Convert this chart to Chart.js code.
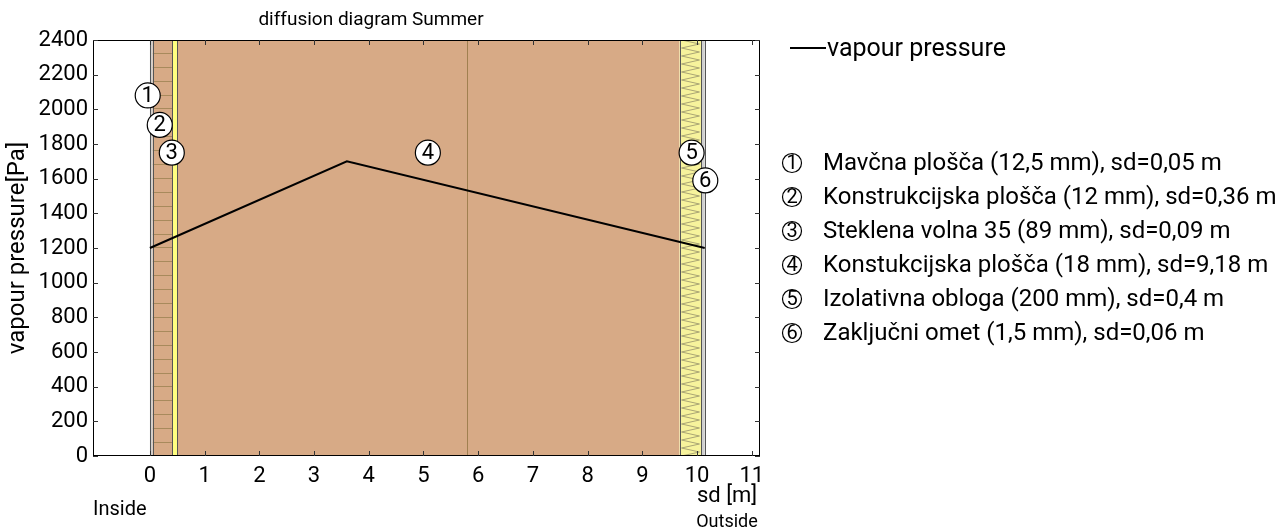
<!DOCTYPE html>
<html>
<head>
<meta charset="utf-8">
<script src="https://cdn.jsdelivr.net/npm/chart.js@4/dist/chart.umd.min.js"></script>
<style>
  html, body { margin: 0; padding: 0; background: #fff; }
  #wrap { width: 1282px; height: 531px; }
</style>
</head>
<body>
<div id="wrap"><canvas id="myChart" width="1282" height="531"></canvas></div>
<script>
// layers of the wall, inside -> outside
const layerNames = [
    'Mavčna plošča (12,5 mm), sd=0,05 m',
    'Konstrukcijska plošča (12 mm), sd=0,36 m',
    'Steklena volna 35 (89 mm), sd=0,09 m',
    'Konstukcijska plošča (18 mm), sd=9,18 m',
    'Izolativna obloga (200 mm), sd=0,4 m',
    'Zaključni omet (1,5 mm), sd=0,06 m'
];
const layerSd = [0.05, 0.36, 0.09, 9.18, 0.4, 0.06];

// vapour pressure curve
const vpX = [0, 3.6, 10.14];
const vpY = [1200, 1700, 1200];

// circled layer numbers inside the plot
const markX = [-0.04, 0.18, 0.4, 5.08, 9.9, 10.15];
const markY = [2080, 1910, 1750, 1750, 1750, 1590];

const xTicks = [0, 1, 2, 3, 4, 5, 6, 7, 8, 9, 10, 11];
const extraLineX = 5.79;

const FONT = 'Roboto, "Noto Sans", sans-serif';
const brown = '#d7aa86';
const yellow = '#ffff80';
const paleYellow = '#f7f39c';
const grey = '#cfcfcf';

function layerBounds() {
    let acc = 0;
    return layerSd.map(sd => { const b = [acc, acc + sd]; acc += sd; return b; });
}

const wallPlugin = {
    id: 'wall',
    beforeDatasetsDraw(chart) {
        const { ctx, chartArea: a, scales: { x } } = chart;
        const b = layerBounds();
        const fills = [grey, brown, yellow, brown, paleYellow, grey];
        ctx.save();
        b.forEach((r, i) => {
            const x0 = x.getPixelForValue(r[0]), x1 = x.getPixelForValue(r[1]);
            ctx.fillStyle = fills[i];
            ctx.fillRect(x0, a.top, x1 - x0, a.bottom - a.top);
            ctx.save();
            ctx.beginPath();
            ctx.rect(x0, a.top, x1 - x0, a.bottom - a.top);
            ctx.clip();
            if (i === 1) {
                ctx.strokeStyle = '#a88a5c';
                ctx.lineWidth = 1;
                for (let y = a.bottom - 14; y > a.top; y -= 13.9) {
                    ctx.beginPath();
                    ctx.moveTo(x0, Math.round(y) + 0.5);
                    ctx.lineTo(x1, Math.round(y) + 0.5);
                    ctx.stroke();
                }
            }
            if (i === 4) {
                ctx.strokeStyle = '#aaa575';
                ctx.lineWidth = 1;
                ctx.beginPath();
                let left = true;
                for (let y = a.top; y <= a.bottom + 5; y += 4) {
                    const px = left ? x0 + 2 : x1 - 2;
                    if (y === a.top) ctx.moveTo(px, y); else ctx.lineTo(px, y);
                    left = !left;
                }
                ctx.stroke();
            }
            ctx.restore();
        });
        // boundaries
        ctx.strokeStyle = '#555';
        ctx.lineWidth = 1;
        const edges = [b[0][0]].concat(b.map(r => r[1]));
        edges.forEach(v => {
            const px = Math.round(x.getPixelForValue(v)) + 0.5;
            ctx.beginPath();
            ctx.moveTo(px, a.top);
            ctx.lineTo(px, a.bottom);
            ctx.stroke();
        });
        // thin line inside layer 4
        ctx.strokeStyle = '#a08050';
        const lx = Math.round(x.getPixelForValue(extraLineX)) + 0.5;
        ctx.beginPath();
        ctx.moveTo(lx, a.top);
        ctx.lineTo(lx, a.bottom);
        ctx.stroke();
        ctx.restore();
    },
    afterDatasetsDraw(chart) {
        const { ctx, scales: { x, y } } = chart;
        ctx.save();
        ctx.fillStyle = '#000';
        ctx.font = '22px ' + FONT;
        ctx.textAlign = 'center';
        ctx.textBaseline = 'middle';
        markX.forEach((v, i) => {
            ctx.fillText(String(i + 1), x.getPixelForValue(v), y.getPixelForValue(markY[i]) + 1);
        });
        ctx.restore();
    },
    afterDraw(chart) {
        const { ctx, chartArea: a, scales: { x, y } } = chart;
        ctx.save();
        // frame
        ctx.strokeStyle = '#000';
        ctx.lineWidth = 1;
        ctx.strokeRect(a.left + 0.5, a.top + 0.5, a.right - a.left - 1, a.bottom - a.top - 1);
        // inward ticks on all sides
        ctx.strokeStyle = '#333';
        ctx.beginPath();
        x.ticks.forEach(t => {
            const px = Math.round(x.getPixelForValue(t.value)) + 0.5;
            ctx.moveTo(px, a.bottom); ctx.lineTo(px, a.bottom - 5);
            ctx.moveTo(px, a.top); ctx.lineTo(px, a.top + 5);
        });
        y.ticks.forEach(t => {
            const py = Math.round(y.getPixelForValue(t.value)) + 0.5;
            ctx.moveTo(a.left, py); ctx.lineTo(a.left + 5, py);
            ctx.moveTo(a.right, py); ctx.lineTo(a.right - 5, py);
        });
        ctx.stroke();

        ctx.fillStyle = '#000';
        ctx.textBaseline = 'middle';
        // title
        ctx.font = '19px ' + FONT;
        ctx.textAlign = 'center';
        ctx.fillText('diffusion diagram Summer', 371, 20);
        // y axis title
        ctx.save();
        ctx.translate(18, 248);
        ctx.rotate(-Math.PI / 2);
        ctx.font = '24px ' + FONT;
        ctx.fillText('vapour pressure[Pa]', 0, 0);
        ctx.restore();
        // x axis texts
        ctx.font = '22px ' + FONT;
        ctx.fillText('sd [m]', 727, 496);
        ctx.font = '18px ' + FONT;
        ctx.fillText('Outside', 727, 522);
        ctx.textAlign = 'left';
        ctx.font = '20px ' + FONT;
        ctx.fillText('Inside', 93, 510);

        // legend
        ctx.lineWidth = 2;
        ctx.strokeStyle = '#000';
        ctx.beginPath();
        ctx.moveTo(790, 48); ctx.lineTo(826, 48);
        ctx.stroke();
        ctx.font = '25px ' + FONT;
        ctx.fillText('vapour pressure', 827, 50);

        // layer list
        layerNames.forEach((name, i) => {
            const cy = 163 + i * 34;
            ctx.lineWidth = 1.2;
            ctx.fillStyle = '#fff';
            ctx.beginPath();
            ctx.arc(792, cy, 9.5, 0, Math.PI * 2);
            ctx.fill();
            ctx.stroke();
            ctx.fillStyle = '#000';
            ctx.textAlign = 'center';
            ctx.font = '20px ' + FONT;
            ctx.fillText(String(i + 1), 792, cy + 1);
            ctx.textAlign = 'left';
            ctx.font = '24px ' + FONT;
            ctx.fillText(name, 823, cy + 1);
        });
        ctx.restore();
    }
};

const ctx = document.getElementById('myChart').getContext('2d');
const chart = new Chart(ctx, {
    type: 'scatter',
    data: {
        datasets: [{
            label: 'vapour pressure',
            data: vpX.map((v, i) => ({ x: v, y: vpY[i] })),
            showLine: true,
            borderColor: '#000',
            borderWidth: 2,
            pointRadius: 0,
            tension: 0
        }, {
            label: 'layers',
            data: markX.map((v, i) => ({ x: v, y: markY[i] })),
            showLine: false,
            pointRadius: 12.5,
            pointBackgroundColor: '#fff',
            pointBorderColor: '#000',
            pointBorderWidth: 1.2
        }]
    },
    options: {
        responsive: false,
        animation: false,
        layout: { padding: { top: 40, right: 522, left: 0, bottom: 0 } },
        plugins: {
            legend: { display: false },
            title: { display: false },
            tooltip: { enabled: false }
        },
        scales: {
            x: {
                type: 'linear',
                min: -1.04,
                max: 11.15,
                afterBuildTicks: s => { s.ticks = xTicks.map(v => ({ value: v })); },
                afterFit: s => { s.height = 75; },
                grid: { display: false, drawTicks: false },
                border: { display: false },
                ticks: { color: '#000', font: { family: FONT, size: 22 }, padding: 7, maxRotation: 0,
                         callback: v => String(v) }
            },
            y: {
                min: 0,
                max: 2400,
                afterFit: s => { s.width = 93; },
                grid: { display: false, drawTicks: false },
                border: { display: false },
                ticks: { stepSize: 200, color: '#000', font: { family: FONT, size: 22 }, padding: 5,
                         callback: v => String(v) }
            }
        }
    },
    plugins: [wallPlugin]
});
</script>
</body>
</html>
